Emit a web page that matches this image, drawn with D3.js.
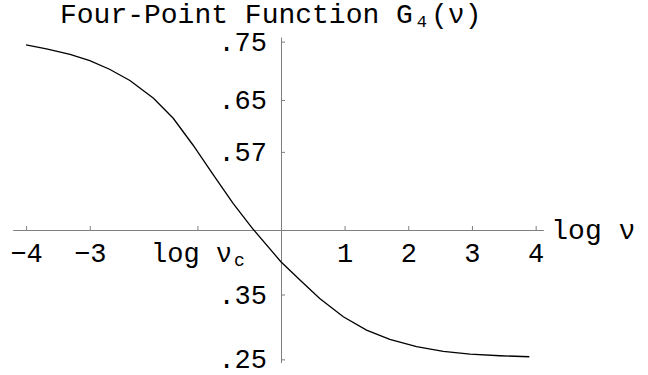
<!DOCTYPE html>
<html>
<head>
<meta charset="utf-8">
<script src="https://cdn.jsdelivr.net/npm/d3@7"></script>
<style>
  body { margin: 0; background: #fff; }
  svg { display: block; font-family: "Liberation Mono", "DejaVu Sans Mono", monospace; }
  .axis path, .axis line { stroke: #7f7f7f; }
  .axis text { fill: #000; font-size: 27px; font-family: "Liberation Mono", monospace; }
  .curve { fill: none; stroke: #000; stroke-width: 1.3; }
</style>
</head>
<body>
<svg width="648" height="375"></svg>
<script>
// log nu vs G4
let logNu = [-4.0, -3.68, -3.31, -3.0, -2.69, -2.37, -2.0, -1.69, -1.38, -1.06, -0.75, -0.435,
             0, 0.3, 0.61, 0.98, 1.345, 1.71, 2.13, 2.55, 2.97, 3.44, 3.9];
let g4 = [0.735, 0.729, 0.7205, 0.7106, 0.6974, 0.680, 0.6526, 0.6218, 0.5806, 0.5344, 0.4907, 0.4506,
          0.4006, 0.3724, 0.344, 0.3158, 0.2952, 0.2809, 0.2695, 0.2624, 0.2582, 0.2556, 0.254];

let xTickValues = [-4, -3, -1.31, 1, 2, 3, 4];
let xTickLabels = ["\u22124", "\u22123", "log \u03bd_c", "1", "2", "3", "4"];
let yTickValues = [0.74, 0.65, 0.57, 0.35, 0.25];
let yTickLabels = [".75", ".65", ".57", ".35", ".25"];
let axisCross = 0.45;

let svg = d3.select("svg");

let xScale = d3.scaleLinear()
        .domain([-4.21, 4.12])
        .range([12.7, 543.3]);
let yScale = d3.scaleLinear()
        .domain([0.245, 0.747])
        .range([362.6, 37.1]);

// text with an optional "_x" subscript
function setLabel(sel, label, size){
    let parts = label.split("_");
    sel.text(parts[0]);
    if (parts.length > 1) {
        sel.append("tspan")
            .attr("dx", 2)
            .attr("dy", "0.22em")
            .style("font-size", size + "px")
            .text(parts[1]);
    }
}

let xAxis = d3.axisBottom(xScale)
        .tickValues(xTickValues)
        .tickSizeInner(-4)
        .tickSizeOuter(0)
        .tickPadding(13)
        .tickFormat("");

let gx = svg.append("g")
    .attr("class", "axis")
    .attr("transform", "translate(0," + Math.round(yScale(axisCross)) + ")")
    .call(xAxis);

gx.selectAll(".tick text").each(function(d, i){
    setLabel(d3.select(this), xTickLabels[i], 18);
});

let yAxis = d3.axisLeft(yScale)
        .tickValues(yTickValues)
        .tickSizeInner(-4)
        .tickSizeOuter(0)
        .tickPadding(14)
        .tickFormat(function(d, i){ return yTickLabels[i]; });

svg.append("g")
    .attr("class", "axis")
    .attr("transform", "translate(" + Math.round(xScale(0)) + ",0)")
    .call(yAxis);

// axis label on the right
svg.append("text")
    .attr("x", xScale(4.12) + 8)
    .attr("y", yScale(axisCross) + 9)
    .style("font-size", "28px")
    .text("log \u03bd");

// title
let title = svg.append("text")
    .attr("x", 60)
    .attr("y", 23)
    .style("font-size", "28px");
title.append("tspan").text("Four-Point Function G");
title.append("tspan").attr("dx", 4).attr("dy", 4).style("font-size", "17px").text("4");
title.append("tspan").attr("dx", 4).attr("dy", -4).text("(\u03bd)");

let line = d3.line()
        .x(function(d, i){ return xScale(logNu[i]); })
        .y(function(d){ return yScale(d); });

svg.append("path")
    .datum(g4)
    .attr("class", "curve")
    .attr("d", line);
</script>
</body>
</html>
